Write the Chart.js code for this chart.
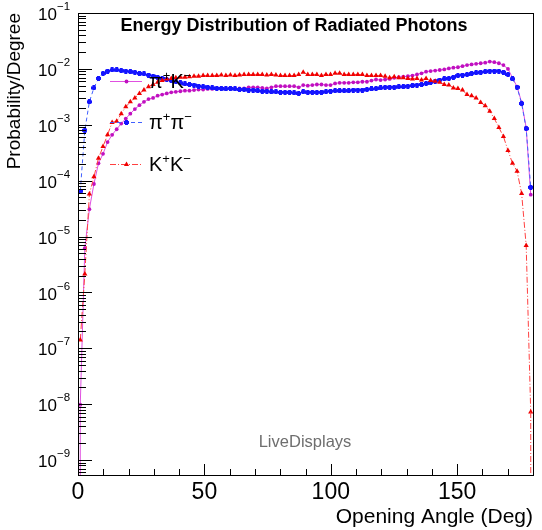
<!DOCTYPE html>
<html>
<head>
<meta charset="utf-8">
<script src="https://cdn.jsdelivr.net/npm/chart.js@4/dist/chart.umd.min.js"></script>
<style>
  html, body { margin: 0; padding: 0; background: #fff; }
  canvas { display: block; }
</style>
</head>
<body>
<canvas id="photonChart" width="542" height="530"></canvas>
<script>
// 100 bins of 1.8 degrees between 0 and 180
const angleBins = Array.from({ length: 100 }, (_, i) => 0.9 + 1.8 * i);

// pi+ K-
const piKValues = [
  9.77e-9, 6.17e-6, 3.09e-5, 8.71e-5, 2.04e-4, 3.02e-4, 4.90e-4, 6.61e-4, 8.32e-4, 1.05e-3,
  1.29e-3, 1.58e-3, 1.91e-3, 2.24e-3, 2.57e-3, 2.88e-3, 3.02e-3, 3.31e-3, 3.47e-3, 3.63e-3,
  3.80e-3, 3.89e-3, 3.98e-3, 4.07e-3, 4.07e-3, 4.17e-3, 4.27e-3, 4.27e-3, 4.37e-3, 4.37e-3,
  4.47e-3, 4.47e-3, 4.47e-3, 4.47e-3, 4.47e-3, 4.47e-3, 4.47e-3, 4.68e-3, 4.68e-3, 4.68e-3,
  4.57e-3, 4.47e-3, 4.68e-3, 4.90e-3, 4.90e-3, 4.90e-3, 4.90e-3, 4.90e-3, 4.68e-3, 5.13e-3,
  5.01e-3, 5.13e-3, 5.25e-3, 5.25e-3, 5.13e-3, 5.13e-3, 5.50e-3, 5.62e-3, 5.62e-3, 5.62e-3,
  5.75e-3, 5.75e-3, 5.89e-3, 5.89e-3, 6.17e-3, 6.46e-3, 6.31e-3, 6.46e-3, 6.61e-3, 6.92e-3,
  7.08e-3, 7.24e-3, 7.41e-3, 7.59e-3, 7.94e-3, 8.32e-3, 8.91e-3, 9.12e-3, 9.33e-3, 9.55e-3,
  9.77e-3, 1.02e-2, 1.05e-2, 1.07e-2, 1.12e-2, 1.17e-2, 1.20e-2, 1.23e-2, 1.26e-2, 1.29e-2,
  1.35e-2, 1.32e-2, 1.26e-2, 1.17e-2, 1.00e-2, 6.92e-3, 4.79e-3, 2.51e-3, 8.91e-4, 5.62e-5
];

// pi+ pi-
const piPiValues = [
  6.46e-5, 7.94e-4, 2.57e-3, 4.57e-3, 6.76e-3, 8.32e-3, 9.12e-3, 9.55e-3, 9.55e-3, 9.33e-3,
  9.12e-3, 8.91e-3, 8.71e-3, 8.32e-3, 8.13e-3, 7.76e-3, 7.41e-3, 7.08e-3, 6.76e-3, 6.46e-3,
  6.17e-3, 5.89e-3, 5.62e-3, 5.37e-3, 5.25e-3, 5.13e-3, 4.90e-3, 4.79e-3, 4.68e-3, 4.57e-3,
  4.47e-3, 4.47e-3, 4.37e-3, 4.47e-3, 4.37e-3, 4.27e-3, 4.27e-3, 4.17e-3, 4.17e-3, 4.07e-3,
  3.98e-3, 3.98e-3, 3.89e-3, 3.89e-3, 3.80e-3, 3.80e-3, 3.80e-3, 3.72e-3, 3.63e-3, 3.89e-3,
  3.80e-3, 3.80e-3, 3.80e-3, 3.80e-3, 3.89e-3, 3.98e-3, 4.07e-3, 4.07e-3, 4.07e-3, 4.07e-3,
  4.17e-3, 4.17e-3, 4.17e-3, 4.27e-3, 4.37e-3, 4.47e-3, 4.57e-3, 4.68e-3, 4.68e-3, 4.68e-3,
  4.79e-3, 4.79e-3, 4.90e-3, 5.01e-3, 5.13e-3, 5.25e-3, 5.50e-3, 5.75e-3, 6.03e-3, 6.31e-3,
  6.61e-3, 6.76e-3, 7.08e-3, 7.59e-3, 7.76e-3, 7.94e-3, 8.32e-3, 8.51e-3, 8.71e-3, 8.91e-3,
  9.12e-3, 9.12e-3, 9.12e-3, 8.71e-3, 7.94e-3, 6.61e-3, 4.68e-3, 2.40e-3, 8.51e-4, 7.59e-5
];

// K+ K-
const kKValues = [
  1.41e-7, 2.14e-6, 5.75e-5, 1.17e-4, 2.51e-4, 4.07e-4, 6.61e-4, 1.10e-3, 1.15e-3, 1.58e-3,
  2.09e-3, 2.57e-3, 3.02e-3, 3.63e-3, 4.17e-3, 4.79e-3, 5.25e-3, 5.75e-3, 6.17e-3, 6.61e-3,
  6.76e-3, 6.92e-3, 7.08e-3, 7.08e-3, 7.24e-3, 7.41e-3, 7.41e-3, 7.59e-3, 7.59e-3, 7.59e-3,
  7.59e-3, 7.76e-3, 7.59e-3, 7.76e-3, 7.59e-3, 7.76e-3, 7.94e-3, 7.94e-3, 7.94e-3, 7.94e-3,
  7.94e-3, 7.76e-3, 7.94e-3, 7.76e-3, 7.59e-3, 7.59e-3, 7.59e-3, 7.59e-3, 7.94e-3, 8.71e-3,
  7.94e-3, 7.94e-3, 7.94e-3, 7.59e-3, 7.94e-3, 7.94e-3, 8.32e-3, 8.32e-3, 7.94e-3, 7.94e-3,
  7.94e-3, 7.94e-3, 7.94e-3, 7.59e-3, 7.59e-3, 7.59e-3, 7.59e-3, 7.41e-3, 6.92e-3, 7.24e-3,
  6.92e-3, 6.92e-3, 6.76e-3, 6.61e-3, 6.76e-3, 6.31e-3, 6.76e-3, 6.17e-3, 6.03e-3, 5.75e-3,
  5.25e-3, 5.13e-3, 4.57e-3, 4.47e-3, 4.17e-3, 3.47e-3, 3.31e-3, 3.02e-3, 2.51e-3, 2.19e-3,
  1.74e-3, 1.29e-3, 8.91e-4, 6.17e-4, 3.47e-4, 2.04e-4, 1.48e-4, 5.89e-5, 6.92e-6, 7.24e-9
];

// bins holding a single entry: their error bar reaches down to zero
const singleEntryBins = [
  { series: 0, bin: 0 },
  { series: 2, bin: 99 }
];

const yDecades = [-9, -8, -7, -6, -5, -4, -3, -2, -1];
const xMajorStep = 50;

const FONT = '"Liberation Sans", Arial, Helvetica, sans-serif';

function crossMarker(color, size, arm) {
  const c = document.createElement('canvas');
  c.width = size; c.height = size;
  const g = c.getContext('2d');
  g.fillStyle = color;
  const o = (size - arm) / 2;
  g.fillRect(o, 0, arm, size);
  g.fillRect(0, o, size, arm);
  return c;
}

function toPoints(values) {
  return angleBins.map((x, i) => ({ x, y: values[i] }));
}

const datasets = [
  {
    label: 'π+K-',
    legendParts: [['π', 0], ['+', 1], ['K', 0], ['-', 1]],
    data: toPoints(piKValues),
    borderColor: '#e050e0',
    borderWidth: 1,
    pointStyle: 'circle',
    pointRadius: 1.9,
    pointBackgroundColor: '#c010c0',
    pointBorderColor: '#c010c0',
    pointBorderWidth: 0,
    order: 2
  },
  {
    label: 'π+π-',
    legendParts: [['π', 0], ['+', 1], ['π', 0], ['-', 1]],
    data: toPoints(piPiValues),
    borderColor: '#4060ff',
    borderWidth: 1,
    borderDash: [4, 3],
    pointStyle: crossMarker('#1414ff', 5, 3),
    pointRadius: 2.5,
    pointBackgroundColor: '#1414ff',
    pointBorderColor: '#1414ff',
    order: 1
  },
  {
    label: 'K+K-',
    legendParts: [['K', 0], ['+', 1], ['K', 0], ['-', 1]],
    data: toPoints(kKValues),
    borderColor: '#ff4040',
    borderWidth: 1,
    borderDash: [6, 2, 1, 2],
    pointStyle: 'triangle',
    pointRadius: 3,
    pointBackgroundColor: '#f00000',
    pointBorderColor: '#f00000',
    pointBorderWidth: 0,
    order: 0
  }
];

// ROOT-like frame, ticks inside the frame, labels and legend
const rootFrame = {
  id: 'rootFrame',
  afterDatasetsDraw(chart) {
    const { ctx, chartArea: a, scales: { x, y } } = chart;

    // error bars for single-entry bins
    ctx.save();
    ctx.beginPath();
    ctx.rect(a.left, a.top, a.right - a.left, a.bottom - a.top);
    ctx.clip();
    singleEntryBins.forEach(e => {
      const ds = datasets[e.series];
      const px = x.getPixelForValue(angleBins[e.bin]);
      const py = y.getPixelForValue(ds.data[e.bin].y);
      ctx.strokeStyle = ds.borderColor;
      ctx.lineWidth = 1;
      ctx.setLineDash(ds.borderDash || []);
      ctx.beginPath();
      ctx.moveTo(px, py);
      ctx.lineTo(px, a.bottom);
      ctx.stroke();
    });
    ctx.restore();

    ctx.save();
    // frame
    ctx.strokeStyle = '#000';
    ctx.lineWidth = 1;
    ctx.strokeRect(Math.round(a.left) + 0.5, Math.round(a.top) + 0.5,
      Math.round(a.right - a.left), Math.round(a.bottom - a.top));

    // x ticks
    ctx.beginPath();
    x.ticks.forEach(t => {
      const px = Math.round(x.getPixelForValue(t.value)) + 0.5;
      const len = t.value % xMajorStep === 0 ? 11 : 6;
      ctx.moveTo(px, a.bottom);
      ctx.lineTo(px, a.bottom - len);
    });
    // y ticks (decades + 2..9 subdivisions)
    const yMin = y.min, yMax = y.max;
    for (let e = -10; e <= -1; e++) {
      for (let m = 1; m <= 9; m++) {
        const v = m * Math.pow(10, e);
        if (v < yMin || v > yMax * 1.0001) continue;
        const py = Math.round(y.getPixelForValue(v)) + 0.5;
        const len = m === 1 ? 14 : 8;
        ctx.moveTo(a.left, py);
        ctx.lineTo(a.left + len, py);
      }
    }
    ctx.stroke();

    // y labels 10^k
    ctx.fillStyle = '#000';
    ctx.textBaseline = 'middle';
    yDecades.forEach(k => {
      const py = y.getPixelForValue(Math.pow(10, k));
      const expLeft = 57;
      ctx.font = '17px ' + FONT;
      ctx.textAlign = 'right';
      ctx.fillText('10', expLeft, py + 2.5);
      ctx.font = '11.5px ' + FONT;
      ctx.textAlign = 'left';
      ctx.fillText('\u2212' + Math.abs(k), expLeft, py - 6);
    });

    // title
    ctx.font = 'bold 18px ' + FONT;
    ctx.textAlign = 'center';
    ctx.fillText('Energy Distribution of Radiated Photons', 294, 26);

    // watermark
    ctx.font = '16.5px ' + FONT;
    ctx.fillStyle = '#6e6e6e';
    ctx.fillText('LiveDisplays', 305, 442);

    // legend
    const legendY = [81, 122, 164];
    datasets.forEach((ds, i) => {
      const ly = legendY[i];
      ctx.strokeStyle = ds.borderColor;
      ctx.lineWidth = 1;
      ctx.setLineDash(ds.borderDash || []);
      ctx.beginPath();
      ctx.moveTo(110, ly + 0.5);
      ctx.lineTo(142, ly + 0.5);
      ctx.stroke();
      ctx.setLineDash([]);
      ctx.fillStyle = ds.pointBackgroundColor;
      ctx.strokeStyle = ds.pointBorderColor;
      Chart.helpers.drawPoint(ctx, {
        pointStyle: ds.pointStyle, radius: ds.pointRadius, rotation: 0,
        borderWidth: ds.pointBorderWidth || 0
      }, 126.5, ly + 0.5);

      let tx = 149;
      ctx.fillStyle = '#000';
      ctx.textAlign = 'left';
      ctx.textBaseline = 'alphabetic';
      ds.legendParts.forEach(([txt, sup]) => {
        ctx.font = (sup ? '13px ' : '20px ') + FONT;
        const s = txt === '-' ? '\u2212' : txt;
        ctx.fillText(s, tx, sup ? ly - 1 : ly + 7);
        tx += ctx.measureText(s).width;
      });
    });
    ctx.restore();
  }
};

new Chart(document.getElementById('photonChart'), {
  type: 'line',
  data: { datasets },
  options: {
    responsive: false,
    animation: false,
    layout: { padding: { left: 0, right: 9, top: 13, bottom: 0 } },
    elements: { line: { tension: 0 } },
    plugins: { legend: { display: false }, tooltip: { enabled: false } },
    scales: {
      x: {
        type: 'linear',
        min: 0,
        max: 180,
        grid: { display: false, drawTicks: false },
        border: { display: false },
        ticks: {
          stepSize: 10,
          autoSkip: false,
          maxRotation: 0,
          includeBounds: false,
          padding: 4,
          color: '#000',
          font: { family: FONT, size: 23 },
          callback: v => (v % xMajorStep === 0 && v < 180 ? String(v) : '')
        },
        title: {
          display: true,
          text: 'Opening Angle (Deg)',
          align: 'end',
          color: '#000',
          font: { family: FONT, size: 21, lineHeight: 1.2 },
          padding: 0
        },
        afterFit: s => { s.height = 55; }
      },
      y: {
        type: 'logarithmic',
        min: 5.4e-10,
        max: 0.1,
        grid: { display: false, drawTicks: false },
        border: { display: false },
        ticks: { display: false },
        title: {
          display: true,
          text: 'Probability/Degree',
          align: 'end',
          color: '#000',
          font: { family: FONT, size: 19, lineHeight: 1.2 },
          padding: { top: 3, bottom: 0 }
        },
        afterFit: s => { s.width = 78; }
      }
    }
  },
  plugins: [rootFrame]
});
</script>
</body>
</html>
